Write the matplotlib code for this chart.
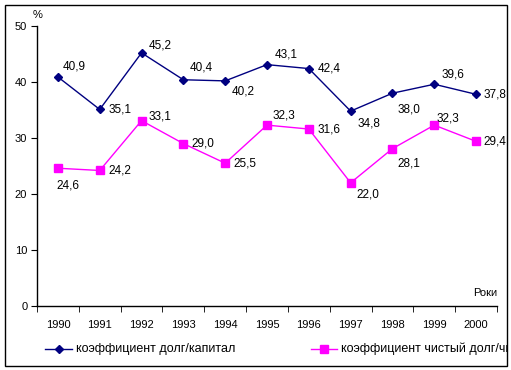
import numpy as np
import matplotlib.pyplot as plt
from matplotlib.patches import Rectangle
from matplotlib.lines import Line2D

plt.rcParams['font.family'] = ['Liberation Sans', 'DejaVu Sans']

years = ['1990', '1991', '1992', '1993', '1994', '1995', '1996', '1997', '1998', '1999', '2000']
debt_equity = [40.9, 35.1, 45.2, 40.4, 40.2, 43.1, 42.4, 34.8, 38.0, 39.6, 37.8]
net_debt_equity = [24.6, 24.2, 33.1, 29.0, 25.5, 32.3, 31.6, 22.0, 28.1, 32.3, 29.4]
legend_names = ['коэффициент долг/капитал', 'коэффициент чистый долг/чистый капитал']

# смещения подписей в пикселях (dx, dy)
off_navy = [(5, 10), (9, 0), (7, 7), (6, 12), (7, -11), (8, 10), (9, 0), (7, -12), (5, -16), (7, 10), (7, 0)]
off_pink = [(-1, -17), (9, 0), (7, 4), (8, 0), (8, 0), (6, 10), (9, 0), (6, -12), (5, -15), (2, 7), (7, 0)]

W, H = 511, 370
fig = plt.figure(figsize=(W / 100, H / 100), dpi=100)
ax = fig.add_axes([37 / W, 1 - 306 / H, 460 / W, 280 / H])

x = np.arange(len(years))
navy = '#000080'
pink = '#FF00FF'
ax.plot(x, debt_equity, color=navy, lw=1, marker='D', ms=4.5, mec=navy, mfc=navy)
ax.plot(x, net_debt_equity, color=pink, lw=1, marker='s', ms=5.5, mec=pink, mfc=pink)

for xi, v, (dx, dy) in zip(x, debt_equity, off_navy):
    ax.annotate(f'{v:.1f}'.replace('.', ','), (xi, v), xytext=(dx, dy), textcoords='offset pixels',
                ha='left', va='center', fontsize=8.5)
for xi, v, (dx, dy) in zip(x, net_debt_equity, off_pink):
    ax.annotate(f'{v:.1f}'.replace('.', ','), (xi, v), xytext=(dx, dy), textcoords='offset pixels',
                ha='left', va='center', fontsize=8.5)

ax.set_xlim(-0.5, len(years) - 0.5)
ax.set_ylim(0, 50)
ax.set_yticks(range(0, 51, 10))
ax.set_xticks(x)
ax.set_xticklabels(years)
ax.set_xticks(np.arange(-0.5, len(years), 1), minor=True)
ax.tick_params(axis='x', which='major', length=0, pad=10, labelsize=8)
ax.tick_params(axis='x', which='minor', length=4, direction='out')
ax.tick_params(axis='y', length=4, direction='out', labelsize=8, pad=3)
ax.spines['top'].set_visible(False)
ax.spines['right'].set_visible(False)
for s in ['left', 'bottom']:
    ax.spines[s].set_linewidth(1)

fig.text(33 / W, 1 - 15 / H, '%', fontsize=8, ha='left', va='center')
fig.text(497 / W, 1 - 293 / H, 'Роки', fontsize=8, ha='right', va='center')

# рамка вокруг рисунка
border = Rectangle((5 / W, 1 - 366 / H), 502 / W, 361 / H, transform=fig.transFigure,
                   fill=False, ec='black', lw=1)
fig.patches.append(border)

# легенда вручную, обрезается рамкой как в оригинале
clip = Rectangle((5 / W, 1 - 366 / H), 502 / W, 361 / H, transform=fig.transFigure, fill=False, lw=0)
ly = 1 - 349 / H
for (x0, x1, xt), col, mk, ms, name in [((45, 72, 76), navy, 'D', 4.5, legend_names[0]),
                                       ((311, 337, 341), pink, 's', 5.5, legend_names[1])]:
    fig.add_artist(Line2D([x0 / W, x1 / W], [ly, ly], color=col, lw=1, transform=fig.transFigure))
    fig.add_artist(Line2D([(x0 + x1) / 2 / W], [ly], color=col, marker=mk, ms=ms, transform=fig.transFigure))
    t = fig.text(xt / W, ly, name, fontsize=9, ha='left', va='center')
    t.set_clip_path(clip)

fig.savefig('out.png', dpi=100)
